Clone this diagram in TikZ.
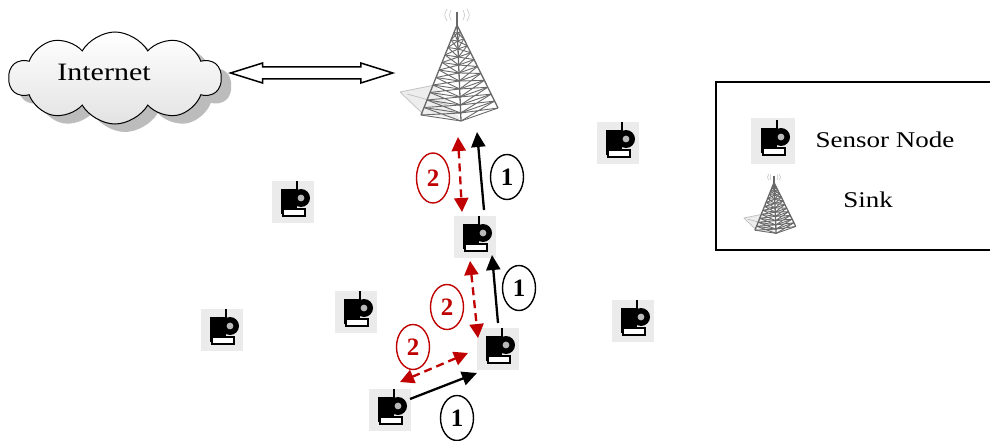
\documentclass[tikz,border=0pt]{standalone}
\usepackage{fontspec}
\setmainfont{Liberation Serif}
\usetikzlibrary{shapes.symbols,shapes.geometric,shadows,arrows.meta,calc}

\definecolor{msgred}{RGB}{192,0,0}
\definecolor{steel}{RGB}{105,105,105}

\tikzset{
  % light grey tile that carries a sensor glyph
  sensor/.style={rectangle, minimum width=42pt, minimum height=42pt, inner sep=0pt,
                 fill=gray!16},
  sensorglyph/.pic={
    \draw[black, line width=1.2pt] (4,-21) -- (4,-11);
    \fill[black] (-12,-13) rectangle (4,12);
    \fill[black] (8,-4) circle (9);
    \fill[gray!55] (8,-4) circle (3.4);
    \draw[black, line width=2.4pt, fill=white] (-10,7) rectangle (12,14);
  },
  % lattice transmission tower, apex of the mast at the origin, y pointing down
  tower/.pic={
    \fill[gray!14] (-57,83) -- (-22,76) -- (3,110) -- (-34,105) -- cycle;
    \draw[gray!50, line width=0.7pt] (-57,83) -- (-22,76) (-57,83) -- (-34,105)
                                     (-50,85) -- (-10,96);
    \draw[steel, line width=2pt] (0,3) -- (0,18);
    \draw[gray!40, line width=0.7pt] (-6,1) .. controls (-8,6) .. (-6,11)
                                     (6,1) .. controls (8,6) .. (6,11)
                                     (-10,0) .. controls (-13,6) .. (-10,12)
                                     (10,0) .. controls (13,6) .. (10,12);
    \begin{scope}[steel, line width=0.9pt]
      \draw[line width=1.3pt] (0,16) -- (-36,106) (0,16) -- (41,99) (0,16) -- (4,112);
      \foreach \i in {1,...,12}{
        \pgfmathsetmacro\t{\i/12}
        \draw (-36*\t,16+90*\t) -- (4*\t,16+96*\t) -- (41*\t,16+83*\t);
      }
      \foreach \i in {2,...,12}{
        \pgfmathsetmacro\t{\i/12}
        \pgfmathsetmacro\s{(\i-1)/12}
        \draw (-36*\s,16+90*\s) -- (4*\t,16+96*\t) (4*\s,16+96*\s) -- (-36*\t,16+90*\t);
        \draw (41*\s,16+83*\s) -- (4*\t,16+96*\t) (4*\s,16+96*\s) -- (41*\t,16+83*\t);
      }
    \end{scope}
  },
  datamsg/.style={line width=2.3pt, -{Triangle[length=15pt,width=14pt]}},
  ackmsg/.style={msgred, line width=2.3pt, dash pattern=on 8pt off 5pt,
                 {Triangle[length=14pt,width=14pt]}-{Triangle[length=14pt,width=14pt]}},
  stepone/.style={ellipse, draw, line width=1.4pt, inner sep=0pt,
                  minimum width=33pt, minimum height=45pt,
                  font=\fontsize{25}{25}\selectfont\bfseries},
  steptwo/.style={stepone, draw=msgred, text=msgred},
}

\begin{document}
\begin{tikzpicture}[x=1pt, y=-1pt]
  \useasboundingbox (0,0) rectangle (990,441);
  \fill[white] (0,0) rectangle (990,441);

  % Internet cloud
  \node[cloud, cloud puffs=10, cloud puff arc=120, aspect=2.3,
        minimum width=212pt, minimum height=92pt, draw, line width=1pt,
        top color=white, bottom color=gray!22,
        drop shadow={shadow xshift=10pt, shadow yshift=-8pt, fill=gray!80, opacity=0.65}]
        (inet) at (115,78) {};
  \node[font=\fontsize{25}{25}\selectfont] (inettext) at (104,72) {\scalebox{1.2}[1]{Internet}};

  % sink
  \node[minimum width=100pt, minimum height=112pt, inner sep=0pt] (sink) at (452,65) {};
  \pic at (457,9) {tower};

  % hollow two-way link between the cloud and the sink
  \coordinate (linkL) at ($(inet.east)+(9,-5)$);
  \coordinate (linkR) at ($(sink.west)+(-9,8)$);
  \draw[line width=1.5pt, fill=white]
    (linkL) -- ++(32,-10) -- ++(0,4) -- ($(linkR)+(-32,-6)$) -- ++(0,-4) -- (linkR)
    -- ++(-32,10) -- ++(0,-4) -- ($(linkL)+(32,6)$) -- ++(0,4) -- cycle;

  % sensor field
  \node[sensor] (s1) at (293,202) {};
  \node[sensor] (s2) at (618,143) {};
  \node[sensor] (s3) at (222,330) {};
  \node[sensor] (s4) at (356,312) {};
  \node[sensor] (s5) at (633,321) {};
  \node[sensor] (s6) at (475,237) {};
  \node[sensor] (s7) at (498,349) {};
  \node[sensor] (s8) at (390,410) {};
  \foreach \n in {s1,s2,s3,s4,s5,s6,s7,s8}{
    \pic at (\n.center) {sensorglyph};
  }

  % hop 1: s8 -> s7
  \draw[datamsg] ($(s8.center)+(20,-11)$) -- ($(s7.center)+(-21,24)$);
  \draw[ackmsg] ($(s8.center)+(10,-28)$) -- ($(s7.center)+(-30,4)$);
  \node[stepone] (o1) at (457,418) {1};
  \node[steptwo] (t1) at (413,347) {2};

  % hop 2: s7 -> s6
  \draw[datamsg] ($(s7.center)+(0,-26)$) -- ($(s6.center)+(17,18)$);
  \draw[ackmsg] ($(s6.center)+(-5,24)$) -- ($(s7.center)+(-20,-11)$);
  \node[stepone] (o2) at (519,288) {1};
  \node[steptwo] (t2) at (447,307) {2};

  % hop 3: s6 -> sink
  \draw[datamsg] ($(s6.center)+(9,-27)$) -- ($(sink.center)+(25,67)$);
  \draw[ackmsg] ($(sink.center)+(6,72)$) -- ($(s6.center)+(-13,-25)$);
  \node[stepone] (o3) at (507,177) {1};
  \node[steptwo, minimum height=50pt] (t3) at (433,178) {2};

  % legend
  \draw[line width=1.6pt] (716,82) rectangle (996,250);
  \node[sensor, minimum width=44pt, minimum height=46pt] (lsensor) at (773,141) {};
  \pic at (lsensor.center) {sensorglyph};
  \node[font=\fontsize{22.5}{22.5}\selectfont] (lsensortext) at (885,140) {\scalebox{1.2}[1]{Sensor Node}};
  \node[minimum width=50pt, minimum height=58pt, inner sep=0pt] (lsink) at (774,204) {};
  \pic[scale=0.53] at (774,174) {tower};
  \node[font=\fontsize{22.5}{22.5}\selectfont] (lsinktext) at (868,200) {\scalebox{1.2}[1]{Sink}};
\end{tikzpicture}
\end{document}
